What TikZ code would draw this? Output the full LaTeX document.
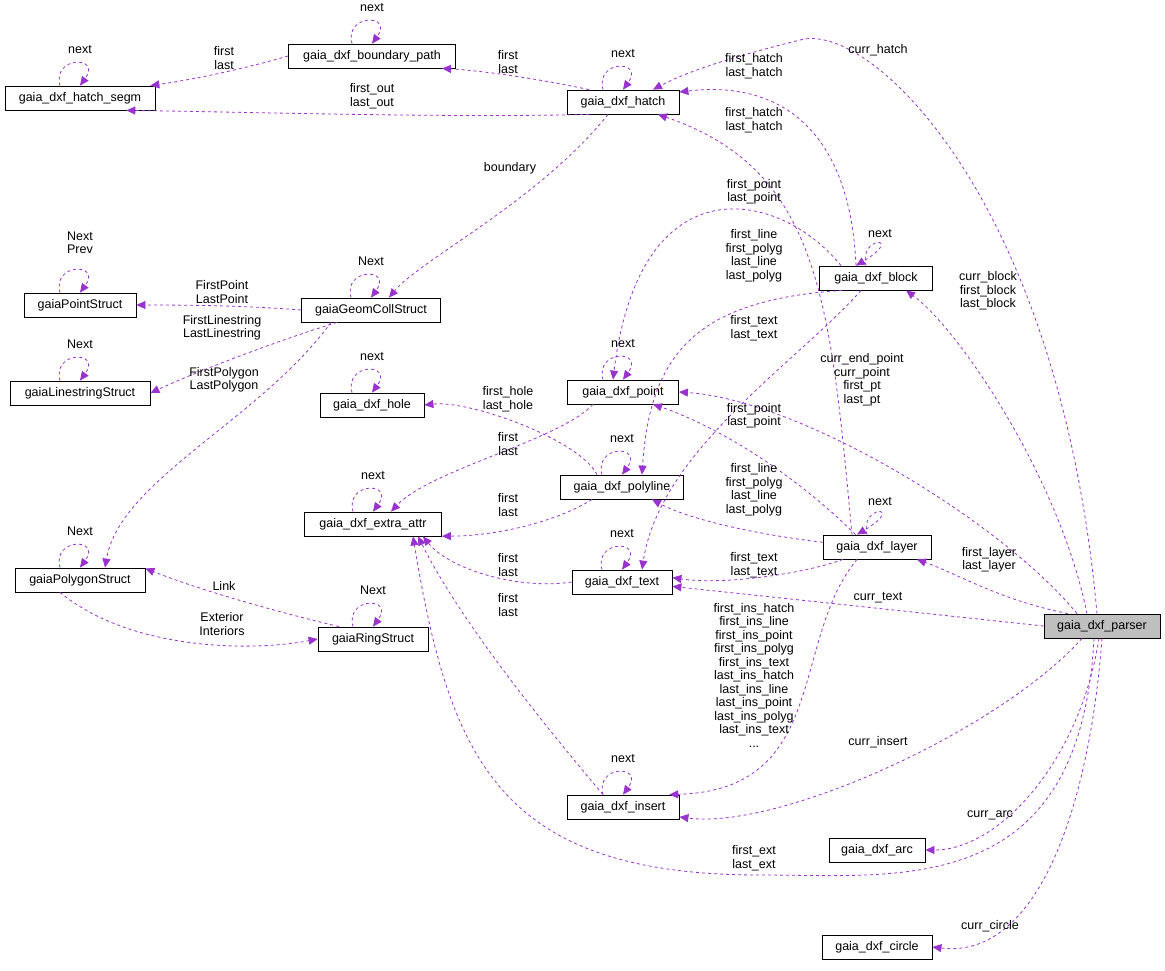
\documentclass[tikz,border=0pt]{standalone}
\usepackage{fontspec}
\setmainfont{Liberation Sans}
\usetikzlibrary{arrows.meta}
\definecolor{pu}{HTML}{9A32CD}
\begin{document}
\begin{tikzpicture}[x=1pt,y=-1pt,
  box/.style={draw,thick,minimum height=24pt,inner sep=0pt,font=\fontsize{12.5}{14}\selectfont},
  e/.style={draw=pu,dashed,thick,-{Triangle[length=9pt,width=8pt,fill=pu]}},
  lbl/.style={align=center,inner sep=0pt,font=\fontsize{12.5}{13.5}\selectfont}]
\useasboundingbox (0,0) rectangle (1165,971);
\node[box,minimum width=150pt] (hs) at (80,98) {gaia\_dxf\_hatch\_segm};
\node[box,minimum width=167pt] (bp) at (372,56) {gaia\_dxf\_boundary\_path};
\node[box,minimum width=112pt] (h) at (623,102) {gaia\_dxf\_hatch};
\node[box,minimum width=112pt] (ps) at (80,305) {gaiaPointStruct};
\node[box,minimum width=139pt] (gc) at (371,310) {gaiaGeomCollStruct};
\node[box,minimum width=140pt] (ls) at (80,393) {gaiaLinestringStruct};
\node[box,minimum width=104pt] (ho) at (372,405) {gaia\_dxf\_hole};
\node[box,minimum width=111pt] (pt) at (623,392) {gaia\_dxf\_point};
\node[box,minimum width=113pt] (bl) at (876,278) {gaia\_dxf\_block};
\node[box,minimum width=123pt] (pl) at (622,487) {gaia\_dxf\_polyline};
\node[box,minimum width=137pt] (ea) at (373,524) {gaia\_dxf\_extra\_attr};
\node[box,minimum width=108pt] (la) at (877,547) {gaia\_dxf\_layer};
\node[box,minimum width=130pt] (pg) at (80,580) {gaiaPolygonStruct};
\node[box,minimum width=100pt] (tx) at (622,582) {gaia\_dxf\_text};
\node[box,minimum width=110pt] (rs) at (373,639) {gaiaRingStruct};
\node[box,minimum width=116pt,fill=black!25] (pa) at (1102,626) {gaia\_dxf\_parser};
\node[box,minimum width=112pt] (in) at (623,807) {gaia\_dxf\_insert};
\node[box,minimum width=96pt] (ar) at (877,850) {gaia\_dxf\_arc};
\node[box,minimum width=110pt] (ci) at (877,947) {gaia\_dxf\_circle};
% self loops
\foreach \n/\t in {hs/next,bp/next,h/next,gc/Next,ls/Next,ho/next,pt/next,pl/next,ea/next,tx/next,pg/Next,rs/Next,in/next}{
  \draw[e] ([xshift=-20pt]\n.north) .. controls +(-8,-30) and +(22,-30) .. (\n.north);
  \node[lbl] at ([yshift=36pt]\n.north) {\t};}
\draw[e] ([xshift=-20pt]ps.north) .. controls +(-8,-30) and +(22,-30) .. (ps.north);
\node[lbl] at ([yshift=50pt]ps.north) {Next\\Prev};
\draw[e] ([xshift=-10pt]bl.north) .. controls +(-8,-30) and +(50,-30) .. ([xshift=-20pt]bl.north);
\node[lbl] at (880,234) {next};
\draw[e] ([xshift=-10pt]la.north) .. controls +(-8,-30) and +(50,-30) .. ([xshift=-20pt]la.north);
\node[lbl] at (880,502) {next};
% edges
\draw[e] (bp.west) .. controls (240,70) and (190,80) .. (hs.10);
\node[lbl] at (224,58) {first\\last};
\draw[e] (h.160) .. controls (520,75) and (470,70) .. ([xshift=70pt]bp.south);
\node[lbl] at (508,62) {first\\last};
\draw[e] (h.200) .. controls (450,118) and (250,112) .. (hs.-15);
\node[lbl] at (372,96) {first\_out\\last\_out};
\draw[e] ([xshift=-15pt]h.south) .. controls (540,200) and (420,260) .. ([xshift=18pt]gc.north);
\node[lbl] at (510,168) {boundary};
\draw[e] (gc.west) .. controls (250,306) and (200,305) .. (ps.east);
\node[lbl] at (222,292) {FirstPoint\\LastPoint};
\draw[e] (gc.200) .. controls (280,340) and (200,370) .. (ls.east);
\node[lbl] at (222,328) {FirstLinestring\\LastLinestring};
\draw[e] ([xshift=-40pt]gc.south) .. controls (260,420) and (120,480) .. ([xshift=25pt]pg.north);
\node[lbl] at (224,380) {FirstPolygon\\LastPolygon};
\draw[e] (rs.160) .. controls (270,610) and (200,590) .. (pg.10);
\node[lbl] at (224,586) {Link};
\draw[e] ([xshift=-20pt]pg.south) .. controls (130,650) and (250,652) .. (rs.west);
\node[lbl] at (222,624) {Exterior\\Interiors};
\draw[e] ([xshift=-5pt]pa.north) .. controls (1060,200) and (870,20) .. (800,40) .. controls (740,55) and (690,70) .. ([xshift=30pt]h.north);
\node[lbl] at (878,50) {curr\_hatch};
\draw[e] ([xshift=-20pt]bl.north) .. controls (850,130) and (780,80) .. (h.10);
\node[lbl] at (754,66) {first\_hatch\\last\_hatch};
\draw[e] ([xshift=-25pt]la.north) .. controls (830,300) and (820,170) .. ([xshift=35pt]h.south);
\node[lbl] at (754,120) {first\_hatch\\last\_hatch};
\draw[e] ([xshift=-35pt]bl.north) .. controls (780,190) and (640,160) .. ([xshift=-10pt]pt.north);
\node[lbl] at (754,192) {first\_point\\last\_point};
\draw[e] (bl.200) .. controls (700,300) and (650,350) .. ([xshift=20pt]pl.north);
\node[lbl] at (754,256) {first\_line\\first\_polyg\\last\_line\\last\_polyg};
\draw[e] ([xshift=-15pt]bl.south) .. controls (800,360) and (660,450) .. ([xshift=20pt]tx.north);
\node[lbl] at (754,328) {first\_text\\last\_text};
\draw[e] ([xshift=-15pt]pa.north) .. controls (1060,480) and (960,330) .. ([xshift=30pt]bl.south);
\node[lbl] at (988,291) {curr\_block\\first\_block\\last\_block};
\draw[e] ([xshift=-25pt]pa.north) .. controls (1000,520) and (800,400) .. (pt.east);
\node[lbl] at (862,380) {curr\_end\_point\\curr\_point\\first\_pt\\last\_pt};
\draw[e] ([xshift=-30pt]pt.south) .. controls (560,440) and (430,470) .. ([xshift=18pt]ea.north);
\node[lbl] at (508,444) {first\\last};
\draw[e] ([xshift=-25pt]pl.north) .. controls (580,440) and (470,400) .. (ho.east);
\node[lbl] at (508,399) {first\_hole\\last\_hole};
\draw[e] (la.150) .. controls (780,460) and (700,420) .. ([xshift=30pt]pt.south);
\node[lbl] at (754,416) {first\_point\\last\_point};
\draw[e] (la.175) .. controls (760,535) and (690,520) .. ([xshift=30pt]pl.south);
\node[lbl] at (754,490) {first\_line\\first\_polyg\\last\_line\\last\_polyg};
\draw[e] ([xshift=-30pt]pl.south) .. controls (560,520) and (500,536) .. (ea.-10);
\node[lbl] at (508,505) {first\\last};
\draw[e] (tx.west) .. controls (520,590) and (450,570) .. ([xshift=50pt]ea.south);
\node[lbl] at (508,565) {first\\last};
\draw[e] (la.200) .. controls (800,575) and (720,585) .. (tx.5);
\node[lbl] at (754,565) {first\_text\\last\_text};
\draw[e] (pa.160) .. controls (1000,600) and (960,575) .. ([xshift=40pt]la.south);
\node[lbl] at (989,560) {first\_layer\\last\_layer};
\draw[e] (pa.west) -- (tx.-5);
\node[lbl] at (878,598) {curr\_text};
\draw[e] ([xshift=-20pt]in.north) .. controls (540,720) and (460,620) .. ([xshift=45pt]ea.south);
\node[lbl] at (508,605) {first\\last};
\draw[e] ([xshift=-20pt]la.south) .. controls (790,640) and (830,790) .. (in.15);
\node[lbl] at (754,675) {first\_ins\_hatch\\first\_ins\_line\\first\_ins\_point\\first\_ins\_polyg\\first\_ins\_text\\last\_ins\_hatch\\last\_ins\_line\\last\_ins\_point\\last\_ins\_polyg\\last\_ins\_text\\...};
\draw[e] ([xshift=-20pt]pa.south) .. controls (1000,730) and (780,830) .. (in.-10);
\node[lbl] at (878,742) {curr\_insert};
\draw[e] ([xshift=-8pt]pa.south) .. controls (1080,900) and (900,875) .. (760,875) .. controls (500,875) and (450,760) .. ([xshift=40pt]ea.south);
\node[lbl] at (754,858) {first\_ext\\last\_ext};
\draw[e] ([xshift=-3pt]pa.south) .. controls (1080,760) and (1000,850) .. (ar.east);
\node[lbl] at (990,815) {curr\_arc};
\draw[e] (pa.south) .. controls (1090,800) and (1040,960) .. (ci.east);
\node[lbl] at (990,926) {curr\_circle};
\end{tikzpicture}
\end{document}
